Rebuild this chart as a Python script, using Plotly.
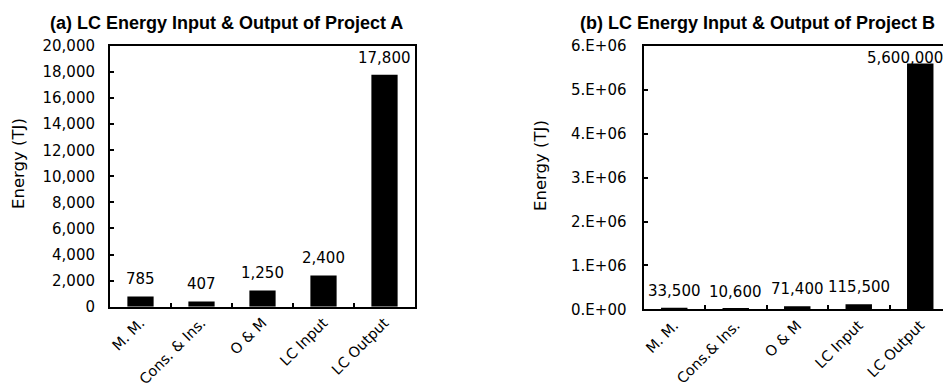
import plotly.graph_objects as go

# ---- data ----
categories_a = ["M. M.", "Cons. & Ins.", "O & M", "LC Input", "LC Output"]
values_a = [785, 407, 1250, 2400, 17800]
labels_a = ["785", "407", "1,250", "2,400", "17,800"]

categories_b = ["M. M.", "Cons.& Ins.", "O & M", "LC Input", "LC Output"]
values_b = [33500, 10600, 71400, 115500, 5600000]
labels_b = ["33,500", "10,600", "71,400", "115,500", "5,600,000"]

yticks_b = [0, 1e6, 2e6, 3e6, 4e6, 5e6, 6e6]
yticklabels_b = ["0.E+00", "1.E+06", "2.E+06", "3.E+06", "4.E+06", "5.E+06", "6.E+06"]

title_a = "<b>(a) LC Energy Input & Output of Project A</b>"
title_b = "<b>(b) LC Energy Input & Output of Project B</b>"
ytitle = "Energy (TJ)"

W, H = 943, 389
FONT = "DejaVu Sans"

fig = go.Figure()
fig.add_trace(go.Bar(x=categories_a, y=values_a,
                     marker=dict(color="black", line=dict(width=0)),
                     xaxis="x", yaxis="y", showlegend=False, hoverinfo="x+y"))
fig.add_trace(go.Bar(x=categories_b, y=values_b,
                     marker=dict(color="black", line=dict(width=0)),
                     xaxis="x2", yaxis="y2", showlegend=False, hoverinfo="x+y"))

annotations = []
# value labels placed through the axes (data coordinates)
for cat, val, lab in zip(categories_a, values_a, labels_a):
    annotations.append(dict(x=cat, y=val, xref="x", yref="y", text=lab, showarrow=False,
                            xanchor="center", yanchor="middle", yshift=17,
                            font=dict(family=FONT, size=15, color="black")))
for i, (cat, val, lab) in enumerate(zip(categories_b, values_b, labels_b)):
    last = i == len(values_b) - 1
    annotations.append(dict(x=cat, y=val, xref="x2", yref="y2", text=lab, showarrow=False,
                            xanchor="center", yanchor="middle",
                            yshift=6 if last else 17,
                            xshift=-15 if last else 0,
                            font=dict(family=FONT, size=15, color="black")))

annotations += [
    dict(text=title_a, x=226 / W, y=1 - 23 / H, xref="paper", yref="paper",
         showarrow=False, xanchor="center", yanchor="middle",
         font=dict(family="Liberation Sans", size=18, color="black")),
    dict(text=title_b, x=757 / W, y=1 - 23 / H, xref="paper", yref="paper",
         showarrow=False, xanchor="center", yanchor="middle",
         font=dict(family="Liberation Sans", size=18, color="black")),
    dict(text=ytitle, x=19 / W, y=1 - 164 / H, xref="paper", yref="paper", textangle=-90,
         showarrow=False, xanchor="center", yanchor="middle",
         font=dict(family=FONT, size=16.5, color="black")),
    dict(text=ytitle, x=540 / W, y=1 - 166 / H, xref="paper", yref="paper", textangle=-90,
         showarrow=False, xanchor="center", yanchor="middle",
         font=dict(family=FONT, size=16.5, color="black")),
]

axis_common = dict(showline=True, linecolor="black", linewidth=2, showgrid=False,
                   zeroline=False, ticks="inside", ticklen=4, tickcolor="black", tickwidth=1.5,
                   automargin=False,
                   tickfont=dict(family=FONT, size=15, color="black"))

xa = dict(axis_common, type="category", tickson="boundaries", tickangle=-45,
          tickfont=dict(family=FONT, size=14.5, color="black"))

fig.update_layout(
    template="none",
    width=W, height=H,
    margin=dict(l=0, r=0, t=0, b=0, autoexpand=False),
    paper_bgcolor="white", plot_bgcolor="white",
    bargap=0.57,
    xaxis=dict(xa, domain=[110 / W, 415 / W], anchor="y", mirror=True, range=[-0.5, 4.5]),
    yaxis=dict(axis_common, domain=[(H - 306.7) / H, (H - 46) / H], anchor="x", mirror=True,
               range=[0, 20000], dtick=2000, tickformat=",d", ticklabelstandoff=10),
    xaxis2=dict(xa, domain=[643.5 / W, 1.0], anchor="y2", mirror=True, range=[-0.5, 4.37]),
    yaxis2=dict(axis_common, domain=[(H - 309.3) / H, (H - 46) / H], anchor="x2", mirror=False,
                range=[0, 6e6], tickvals=yticks_b, ticktext=yticklabels_b, ticklabelstandoff=12),
    annotations=annotations,
)

fig.write_html("out.html", config={"displayModeBar": False},
               post_script="document.body.style.margin='0';document.body.style.overflow='hidden';")
